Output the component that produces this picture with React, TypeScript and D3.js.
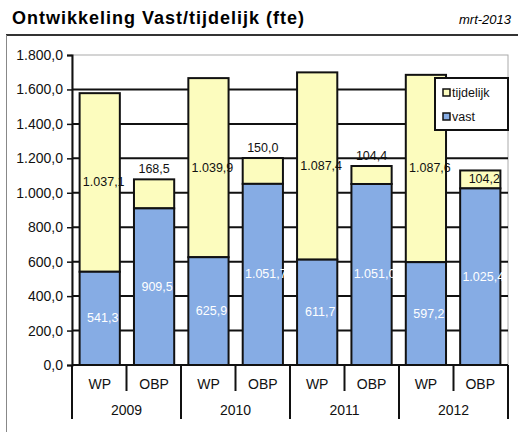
import { useRef, useEffect } from 'react';
import * as d3 from 'd3';

const years = ['2009', '2010', '2011', '2012'];
const units = ['WP', 'OBP'];
// per bar, in order WP 2009, OBP 2009, WP 2010, ...
const vast = [541.3, 909.5, 625.9, 1051.7, 611.7, 1051.0, 597.2, 1025.4];
const tijdelijk = [1037.1, 168.5, 1039.9, 150.0, 1087.4, 104.4, 1087.6, 104.2];
const tijdelijkLabelAbove = [false, true, false, true, false, true, false, false];
const yTicks = [0, 200, 400, 600, 800, 1000, 1200, 1400, 1600, 1800];

const YELLOW = '#FCFCBE';
const BLUE = '#86ACE4';
const FONT = 'Liberation Sans, Arial, sans-serif';

const App = () => {
  const svgRef = useRef(null);

  useEffect(() => {
    const width = 518, height = 432;
    const nl = d3.formatLocale({ decimal: ',', thousands: '.', grouping: [3], currency: ['€', ''] });
    const fmt = nl.format(',.1f');

    const svg = d3.select(svgRef.current);
    svg.selectAll('*').remove();
    svg.attr('width', width).attr('height', height);

    const left = 72, right = 508, top = 55, bottom = 365;

    const bars = years.flatMap((yr, yi) => units.map((u, ui) => {
      const i = yi * 2 + ui;
      return { i, yr, u, vast: vast[i], tijd: tijdelijk[i], above: tijdelijkLabelAbove[i] };
    }));

    const x = d3.scaleBand()
      .domain(bars.map(d => d.i))
      .range([left, right])
      .paddingInner(0.26)
      .paddingOuter(0.14);

    const y = d3.scaleLinear().domain([0, 1800]).range([bottom, top]);

    // title + frame
    svg.append('text')
      .attr('x', 12).attr('y', 24)
      .attr('font-family', FONT).attr('font-weight', 'bold').attr('font-size', 18)
      .attr('letter-spacing', 1)
      .text('Ontwikkeling Vast/tijdelijk (fte)');
    svg.append('text')
      .attr('x', 511).attr('y', 24).attr('text-anchor', 'end')
      .attr('font-family', FONT).attr('font-style', 'italic').attr('font-size', 13)
      .text('mrt-2013');
    svg.append('line').attr('x1', 6).attr('x2', width).attr('y1', 35).attr('y2', 35)
      .attr('stroke', '#333').attr('stroke-width', 2);
    svg.append('line').attr('x1', 6.5).attr('x2', 6.5).attr('y1', 35).attr('y2', height)
      .attr('stroke', '#888').attr('stroke-width', 1);

    // plot border (thin grey)
    svg.append('rect')
      .attr('x', left).attr('y', top).attr('width', right - left).attr('height', bottom - top)
      .attr('fill', 'white').attr('stroke', '#aaa').attr('stroke-width', 1);

    // grid lines
    svg.append('g')
      .selectAll('line')
      .data(yTicks.filter(t => t > 0 && t < 1800))
      .enter()
      .append('line')
      .attr('x1', left).attr('x2', right)
      .attr('y1', d => y(d)).attr('y2', d => y(d))
      .attr('stroke', '#111').attr('stroke-width', 2);

    // y axis
    const yAxis = svg.append('g')
      .attr('transform', `translate(${left},0)`)
      .call(d3.axisLeft(y).tickValues(yTicks).tickSize(5).tickFormat(d => fmt(d)));
    yAxis.select('.domain').attr('stroke', '#111').attr('stroke-width', 2);
    yAxis.selectAll('.tick line').attr('stroke', '#111').attr('stroke-width', 1.5);
    yAxis.selectAll('.tick text')
      .attr('font-family', FONT).attr('font-size', 14).attr('fill', '#111').attr('x', -9);

    // bars
    const g = svg.append('g');
    g.selectAll('.tijd')
      .data(bars)
      .enter()
      .append('rect')
      .attr('x', d => x(d.i))
      .attr('y', d => y(d.vast + d.tijd))
      .attr('width', x.bandwidth())
      .attr('height', d => y(d.vast) - y(d.vast + d.tijd))
      .attr('fill', YELLOW).attr('stroke', '#111').attr('stroke-width', 2);
    g.selectAll('.vast')
      .data(bars)
      .enter()
      .append('rect')
      .attr('x', d => x(d.i))
      .attr('y', d => y(d.vast))
      .attr('width', x.bandwidth())
      .attr('height', d => y(0) - y(d.vast))
      .attr('fill', BLUE).attr('stroke', '#111').attr('stroke-width', 2);

    // labels
    g.selectAll('.lv')
      .data(bars)
      .enter()
      .append('text')
      .attr('x', d => x(d.i) + x.bandwidth() / 2 + 3)
      .attr('y', d => y(d.vast / 2) + 4)
      .attr('text-anchor', 'middle')
      .attr('font-family', FONT).attr('font-size', 12.5).attr('fill', 'white')
      .text(d => fmt(d.vast));
    g.selectAll('.lt')
      .data(bars)
      .enter()
      .append('text')
      .attr('x', d => x(d.i) + x.bandwidth() / 2 + (d.above ? 0 : 4))
      .attr('y', d => d.above ? y(d.vast + d.tijd) - 6 : y(d.vast + d.tijd / 2) + 4)
      .attr('text-anchor', 'middle')
      .attr('font-family', FONT).attr('font-size', 12.5).attr('fill', '#111')
      .text(d => fmt(d.tijd));

    // x axis: category + year rows
    const xa = svg.append('g');
    xa.append('line').attr('x1', left).attr('x2', right).attr('y1', bottom).attr('y2', bottom)
      .attr('stroke', '#111').attr('stroke-width', 2);
    const edges = d3.range(0, 9).map(k => left + (right - left) * k / 8);
    xa.selectAll('.sep')
      .data(edges)
      .enter()
      .append('line')
      .attr('x1', d => d).attr('x2', d => d)
      .attr('y1', bottom)
      .attr('y2', (d, k) => k % 2 === 0 ? 419 : 391)
      .attr('stroke', '#111').attr('stroke-width', 2);
    xa.selectAll('.cat')
      .data(bars)
      .enter()
      .append('text')
      .attr('x', d => x(d.i) + x.bandwidth() / 2)
      .attr('y', 389)
      .attr('text-anchor', 'middle')
      .attr('font-family', FONT).attr('font-size', 14).attr('fill', '#111')
      .text(d => d.u);
    xa.selectAll('.yr')
      .data(years)
      .enter()
      .append('text')
      .attr('x', (d, k) => left + (right - left) * (2 * k + 1) / 8)
      .attr('y', 415)
      .attr('text-anchor', 'middle')
      .attr('font-family', FONT).attr('font-size', 14).attr('fill', '#111')
      .text(d => d);

    // legend
    const lg = svg.append('g').attr('transform', 'translate(435,78)');
    lg.append('rect').attr('width', 73).attr('height', 52)
      .attr('fill', 'white').attr('stroke', '#111').attr('stroke-width', 2);
    [['tijdelijk', YELLOW], ['vast', BLUE]].forEach(([name, col], k) => {
      lg.append('rect').attr('x', 8).attr('y', 11 + k * 24).attr('width', 7).attr('height', 7)
        .attr('fill', col).attr('stroke', '#111').attr('stroke-width', 1.5);
      lg.append('text').attr('x', 17).attr('y', 19 + k * 24)
        .attr('font-family', FONT).attr('font-size', 12.5).attr('fill', '#111')
        .text(name);
    });
  }, []);

  return <svg ref={svgRef} style={{ position: 'absolute', left: 0, top: 0, background: 'white' }}></svg>;
};

export default App;
